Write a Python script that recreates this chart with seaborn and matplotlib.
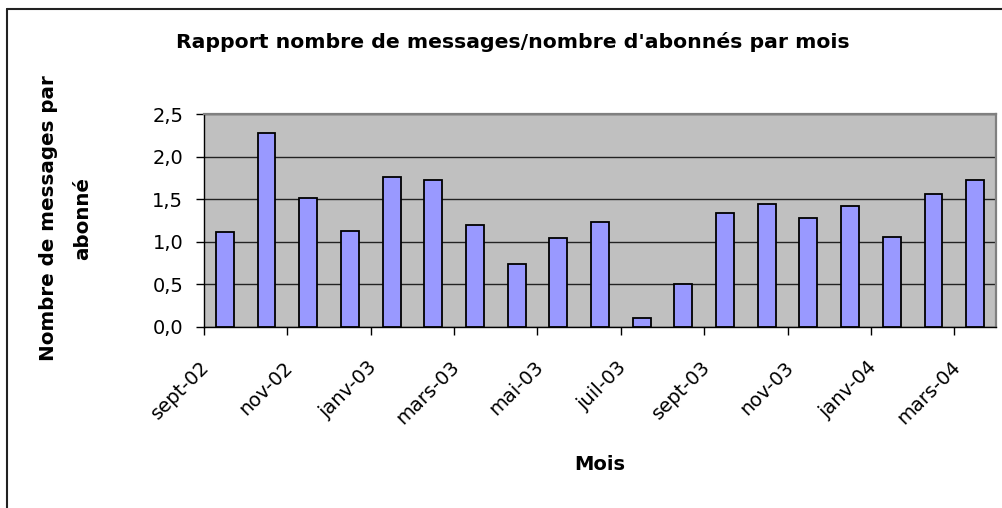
import matplotlib
matplotlib.use("Agg")
import matplotlib.pyplot as plt
import matplotlib.transforms as mtransforms
from matplotlib.lines import Line2D
import numpy as np
import pandas as pd
import seaborn as sns

months = ["sept-02", "oct-02", "nov-02", "déc-02", "janv-03", "févr-03", "mars-03",
          "avr-03", "mai-03", "juin-03", "juil-03", "août-03", "sept-03", "oct-03",
          "nov-03", "déc-03", "janv-04", "févr-04", "mars-04"]
ratios = [1.11, 2.28, 1.51, 1.13, 1.76, 1.72, 1.20, 0.74, 1.04, 1.23,
          0.10, 0.50, 1.34, 1.44, 1.28, 1.42, 1.06, 1.56, 1.72]
ytick_values = [0.0, 0.5, 1.0, 1.5, 2.0, 2.5]
ytick_labels = ["0,0", "0,5", "1,0", "1,5", "2,0", "2,5"]

title = "Rapport nombre de messages/nombre d'abonnés par mois"
ylabel = "Nombre de messages par\nabonné"
xlabel = "Mois"

sns.set_theme(style="white")
plt.rcParams["font.family"] = ["DejaVu Sans"]
plt.rcParams["text.color"] = "black"
plt.rcParams["axes.labelcolor"] = "black"
plt.rcParams["xtick.color"] = "black"
plt.rcParams["ytick.color"] = "black"

fig = plt.figure(figsize=(10.03, 5.08), dpi=100)
fig.patch.set_facecolor("white")
W, H = 1003, 508
L, R, T, B = 204, 996, 114, 327
ax = fig.add_axes([L / W, 1 - B / H, (R - L) / W, (B - T) / H])

df = pd.DataFrame({"Mois": months, "Ratio": ratios})
sns.barplot(data=df, x="Mois", y="Ratio", ax=ax, color="#9999FF", saturation=1,
            width=0.43, edgecolor="black", linewidth=1.3, zorder=3)

ax.set_facecolor("#C0C0C0")
n = len(months)
ax.set_xlim(-0.5, n - 0.5)
ax.set_ylim(0, 2.5)
ax.set_yticks(ytick_values)
ax.set_yticklabels(ytick_labels, fontsize=14)
ax.yaxis.grid(True, color="#222222", linewidth=1.0, zorder=1)
ax.xaxis.grid(False)
ax.set_axisbelow(True)

# major ticks: boundaries every two months; minor: labels at bar centres
ax.set_xticks(np.arange(-0.5, n - 0.5, 2))
ax.set_xticklabels([])
ax.set_xticks(np.arange(0, n, 2), minor=True)
ax.set_xticklabels(months[::2], minor=True, fontsize=14, rotation=45,
                   ha="right", va="center", rotation_mode="anchor")
ax.tick_params(axis="x", which="major", direction="out", length=6, width=1,
               color="black", bottom=True)
ax.tick_params(axis="x", which="minor", length=0, pad=27)
ax.tick_params(axis="y", direction="out", length=6, width=1, color="black",
               left=True, pad=9)
offset = mtransforms.ScaledTranslation(-18 / 100, 0, fig.dpi_scale_trans)
for lab in ax.get_xticklabels(minor=True):
    lab.set_transform(lab.get_transform() + offset)

for s in ["left", "bottom"]:
    ax.spines[s].set_color("black")
    ax.spines[s].set_linewidth(1.0)
for s in ["top", "right"]:
    ax.spines[s].set_color("#808080")
    ax.spines[s].set_linewidth(1.6)

ax.set_xlabel(xlabel, fontsize=14, fontweight="bold", va="center")
ax.xaxis.set_label_coords(0.5, (B - 465) / (B - T))
ax.set_ylabel(ylabel, fontsize=14.3, fontweight="bold", va="center",
              linespacing=2.0)
ax.yaxis.set_label_coords((66 - L) / (R - L), 0.5 - (218 - (T + B) / 2) / (B - T))

fig.text(513 / W, 1 - 42 / H, title, fontsize=14.7, fontweight="bold",
         ha="center", va="center")

# outer chart border (left and top edges visible)
fig.add_artist(Line2D([7 / W, 7 / W], [0, 1 - 9 / H], transform=fig.transFigure,
                      color="#222222", linewidth=1.5))
fig.add_artist(Line2D([7 / W, 1], [1 - 9 / H, 1 - 9 / H], transform=fig.transFigure,
                      color="#222222", linewidth=1.5))

fig.savefig("out.png", dpi=100, facecolor="white")
